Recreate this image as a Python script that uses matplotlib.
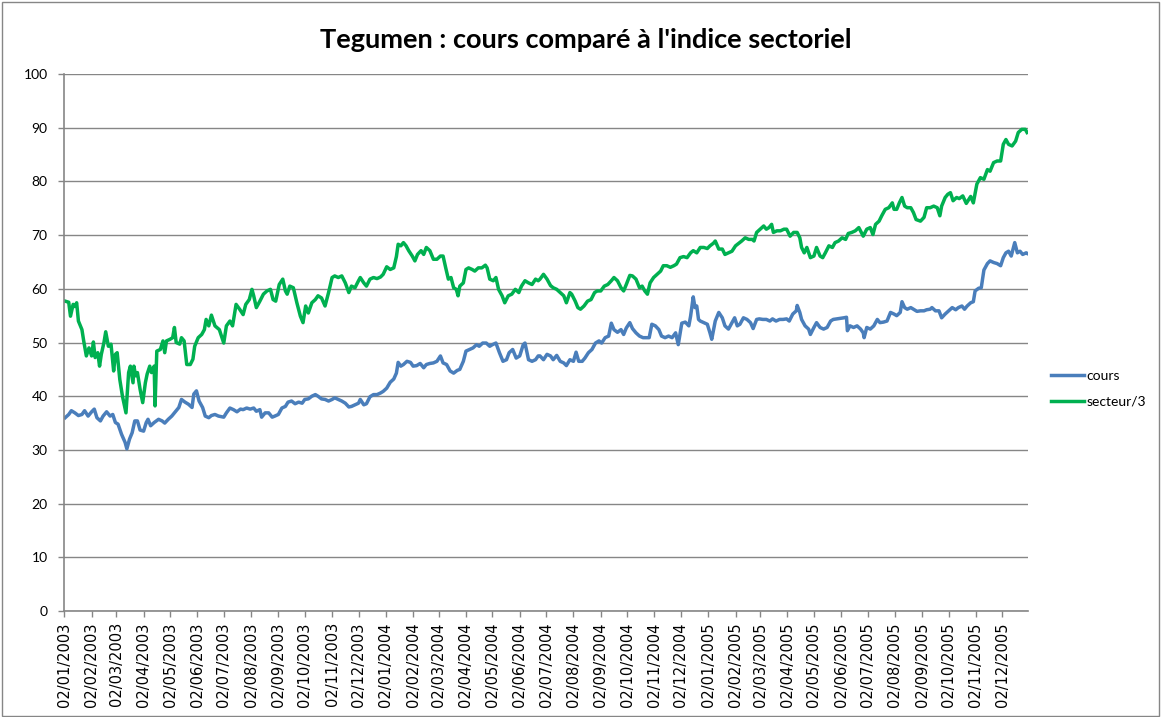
import datetime as dt
import matplotlib
matplotlib.use("Agg")
import matplotlib.pyplot as plt
from matplotlib.patches import Rectangle

# ---------------- data ----------------
debut = dt.date(2003, 1, 2)          # first date of the series
fin_jours = 1094                      # axis end, days after debut

titre = "Tegumen : cours comparé à l'indice sectoriel"
noms_series = ["cours", "secteur/3"]

# days after debut for the "cours" series
cours_jours = [1, 5, 8, 12, 16, 20, 23, 27, 31, 34, 37, 41, 44, 48, 52, 55, 58, 61, 65, 69, 71, 74, 77, 80, 83, 86, 90, 93, 95, 98,
               102, 107, 111, 114, 118, 122, 126, 130, 133, 137, 141, 145, 147, 150, 153, 157, 160, 164, 167, 171, 175,
               181, 184, 188, 192, 196, 200, 203, 207, 211, 215, 218, 222, 224, 228, 232, 236, 239, 243, 247, 251, 254, 258,
               262, 266, 270, 273, 277, 281, 285, 288, 292, 296, 300, 304, 307, 311, 315, 319, 323, 326, 330, 334, 336, 340,
               343, 347, 351, 355,
               359, 362, 366, 370, 374, 377, 379, 382, 385, 389, 393, 396, 400, 404, 408, 411, 415, 419, 423, 427, 430, 434,
               438, 442, 446, 449, 453, 456, 460, 464, 468, 471, 475, 479, 483, 486, 490, 494, 498, 502, 505, 509, 513, 517,
               521, 523, 527, 531, 535, 538,
               540, 544, 548, 552, 555, 559, 563, 567, 570, 574, 578, 581, 584, 588, 591, 595, 599, 603, 607, 610, 614, 618,
               621, 624, 628, 632, 635, 638, 642, 645, 649, 653, 657, 661, 664, 667, 671, 675, 678, 682, 686, 690, 694, 697,
               701, 705, 709, 711, 714, 716, 718, 720,
               722, 726, 730, 733, 735, 739, 743, 747, 750, 754, 758, 761, 764, 767, 771, 775, 779, 782, 786, 789, 793, 797,
               801, 804, 808, 812, 816, 820, 823, 827, 831, 832, 835, 837, 841, 845, 847, 851, 854, 858, 862, 866, 870, 873,
               877, 881, 885, 888, 889, 892, 896, 900,
               904, 907, 908, 911, 915, 919, 923, 926, 930, 934, 938, 942, 945, 949, 951, 954, 957, 961, 964, 968, 972, 976,
               979, 983, 985, 989, 993, 996, 1000, 1004, 1008, 1012, 1015, 1019, 1022, 1025, 1029, 1032, 1034, 1038, 1041,
               1044, 1048, 1051, 1055, 1059, 1063, 1066, 1069, 1072, 1075, 1079, 1082, 1085, 1088, 1092, 1093]
cours = [36.0, 36.6, 37.3, 36.9, 36.4, 36.6, 37.3, 36.3, 37.1, 37.6, 36.0, 35.4, 36.3, 37.1, 36.3, 36.6, 35.1, 34.8, 32.9, 31.4,
         30.2, 32.0, 33.2, 35.4, 35.4, 33.7, 33.5, 35.1, 35.7, 34.5,
         35.1, 35.7, 35.4, 35.0, 35.7, 36.3, 37.1, 37.9, 39.4, 38.9, 38.5, 37.9, 40.4, 41.0, 39.1, 37.9, 36.3, 36.0, 36.4,
         36.6, 36.3,
         36.1, 36.9, 37.8, 37.5, 37.1, 37.6, 37.5, 37.8, 37.6, 37.8, 37.2, 37.5, 36.1, 36.9, 36.9, 36.1, 36.3, 36.6, 37.8,
         38.1, 38.9, 39.1, 38.6, 38.9, 38.7, 39.4, 39.5, 40.0, 40.3, 40.0, 39.5, 39.4, 39.1, 39.4, 39.7, 39.4, 39.1, 38.7,
         38.0, 38.1, 38.4, 38.7, 39.4, 38.4, 38.6, 39.9, 40.3, 40.3,
         40.6, 40.9, 41.5, 42.6, 43.2, 44.3, 46.3, 45.6, 45.9, 46.5, 46.3, 45.6, 45.7, 46.1, 45.3, 45.9, 46.1, 46.2, 46.5,
         47.5, 46.2, 45.9, 44.7, 44.3, 44.8, 45.0, 46.5, 48.4, 48.7, 49.0, 49.6, 49.3, 49.9, 49.9, 49.3, 49.6, 49.9, 48.1,
         46.5, 46.8, 48.1, 48.7, 47.1, 47.5, 49.6, 49.9, 46.8, 46.5, 46.8, 47.5,
         47.5, 46.8, 47.8, 47.5, 46.8, 47.6, 46.5, 46.2, 45.7, 46.8, 46.5, 48.2, 46.5, 46.5, 47.1, 48.1, 48.7, 49.9, 50.3,
         49.9, 50.9, 51.2, 53.6, 52.4, 51.9, 52.4, 51.5, 52.7, 53.7, 52.6, 51.8, 51.2, 50.9, 50.9, 50.9, 53.4, 53.1, 52.4,
         51.2, 50.9, 51.2, 50.9, 51.8, 49.6, 53.6, 53.8, 53.1, 54.9, 58.5, 56.5, 56.8, 54.3,
         54.0, 53.7, 53.4, 51.8, 50.6, 54.0, 55.6, 54.6, 53.1, 52.5, 53.7, 54.6, 53.1, 53.4, 54.6, 54.3, 53.7, 52.6, 54.3,
         54.4, 54.3, 54.3, 54.0, 54.4, 54.0, 54.3, 54.3, 54.4, 54.0, 55.3, 55.9, 56.9, 55.6, 54.3, 53.1, 52.5, 51.5, 52.8,
         53.7, 52.8, 52.5, 52.8, 54.0, 54.3, 54.4, 54.5, 54.6, 54.7, 52.2, 53.1, 52.8, 53.1,
         52.5, 51.8, 50.9, 52.8, 52.5, 53.1, 54.3, 53.7, 53.8, 54.0, 55.6, 55.3, 55.0, 55.6, 57.6, 56.5, 56.2, 56.5, 56.2,
         55.8, 55.9, 55.9, 56.1, 56.2, 56.5, 55.9, 55.9, 54.6, 55.3, 55.9, 56.5, 56.1, 56.5, 56.8, 56.2, 56.8, 57.4, 57.6,
         59.6, 60.1, 60.2, 63.5, 64.7, 65.2, 64.9, 64.7, 64.3, 65.8, 66.7, 67.0, 66.1, 68.6, 66.7, 67.0, 66.4, 66.7, 66.6]

# days after debut for the "secteur/3" series
secteur_jours = [1, 5, 7, 10, 12, 14, 16, 20, 22, 25, 28, 31, 33, 35, 38, 40, 42, 45, 47, 50, 53, 56, 58, 60, 63, 66, 70, 73,
                 75, 78, 79, 81, 83, 86, 89, 92, 94, 97, 99, 102, 103, 105, 109, 112, 114, 116, 120, 123, 125, 127, 131,
                 133, 136, 139, 143, 146, 148, 152, 156, 159, 161, 164, 167, 171, 176,
                 181, 184, 188, 191, 195, 199, 203, 206, 210, 213, 215, 218, 222, 226, 230, 234, 237, 240, 244, 248, 251,
                 253, 256, 260, 264, 268, 271, 274, 277, 281, 285, 288, 292, 296, 300, 304, 307, 311, 315, 319, 323, 326,
                 330, 334, 336, 340, 343, 347, 351, 355,
                 359, 362, 366, 370, 374, 377, 379, 382, 385, 388, 391, 395, 398, 401, 405, 408, 411, 415, 419, 423, 427,
                 430, 433, 436, 439, 442, 445, 447, 449, 453, 456, 459, 463, 466, 470, 474, 478, 480, 483, 487, 490, 493,
                 497, 500, 504, 508, 512, 516, 519, 523, 527, 531, 535, 538,
                 540, 544, 548, 552, 555, 559, 563, 567, 570, 574, 576, 580, 583, 586, 590, 594, 598, 602, 605, 609, 613,
                 617, 621, 624, 628, 632, 635, 638, 642, 645, 649, 653, 656, 659, 662, 665, 669, 673, 677, 680, 684, 688,
                 692, 695, 699, 703, 707, 711, 714, 718,
                 722, 726, 730, 733, 737, 739, 743, 747, 750, 754, 758, 762, 766, 769, 773, 777, 781, 783, 786, 790, 794,
                 797, 800, 803, 805, 809, 813, 817, 820, 824, 828, 832, 835, 837, 840, 843, 847, 851, 854, 858, 861, 864,
                 868, 872, 875, 879, 883, 887, 890, 894, 898, 902,
                 907, 911, 915, 918, 921, 925, 928, 932, 936, 940, 942, 945, 948, 951, 954, 957, 961, 964, 967, 972, 976,
                 979, 983, 987, 991, 994, 996, 1000, 1003, 1006, 1009, 1013, 1016, 1020, 1024, 1027, 1029, 1032, 1036,
                 1040, 1044, 1048, 1051, 1055, 1059, 1063, 1066, 1069, 1072, 1076, 1080, 1083, 1087, 1091, 1093]
secteur = [57.7, 57.5, 54.9, 57.1, 56.7, 57.4, 54.0, 52.4, 50.3, 47.5, 49.0, 47.5, 50.1, 47.2, 48.1, 45.6, 47.8, 50.0, 52.0,
           49.3, 49.7, 44.7, 47.8, 48.1, 43.1, 40.0, 36.9, 44.4, 45.6, 42.5, 45.6, 43.8, 44.4, 41.3, 38.8, 42.5, 44.1, 45.6,
           44.4, 45.6, 38.2, 48.4, 48.7, 50.3, 48.1, 50.3, 50.6, 50.9, 52.8, 50.0, 49.7, 50.9, 50.3, 45.9, 45.9, 46.9, 49.3,
           50.9, 51.5, 52.4, 54.3, 53.1, 55.1, 53.1, 52.4,
           49.9, 53.1, 54.0, 53.1, 57.1, 56.2, 55.2, 57.1, 58.0, 59.9, 58.7, 56.5, 57.7, 59.0, 59.6, 59.9, 58.0, 57.7, 60.8,
           61.8, 59.6, 59.0, 60.5, 60.2, 57.4, 54.9, 53.7, 56.8, 55.5, 57.4, 58.0, 58.7, 58.3, 56.8, 59.3, 62.1, 62.4, 62.1,
           62.4, 61.1, 59.3, 60.5, 60.2, 61.5, 62.1, 61.1, 60.5, 61.8, 62.1, 61.9,
           62.2, 62.7, 64.1, 63.6, 63.9, 66.0, 68.3, 68.0, 68.6, 68.0, 67.1, 66.1, 65.2, 66.4, 67.1, 66.4, 67.7, 67.1, 65.5,
           65.5, 66.1, 66.1, 63.9, 61.8, 62.1, 60.2, 59.9, 58.7, 60.5, 61.1, 63.6, 63.9, 63.6, 63.3, 63.9, 63.9, 64.4, 63.9,
           61.8, 61.5, 62.1, 59.9, 58.7, 57.4, 58.7, 59.0, 59.9, 59.3, 60.5, 61.5, 61.1, 60.8, 61.8, 61.5,
           61.8, 62.7, 61.8, 60.6, 60.2, 59.9, 59.3, 58.7, 57.4, 59.3, 59.0, 57.7, 56.5, 56.2, 56.8, 57.7, 58.0, 59.3, 59.6,
           59.6, 60.5, 60.8, 61.5, 62.1, 61.5, 60.2, 59.6, 60.8, 62.5, 62.4, 61.8, 60.2, 60.5, 59.6, 59.0, 61.1, 62.1, 62.7,
           63.3, 64.3, 64.3, 64.0, 64.3, 64.6, 65.8, 66.0, 65.8, 66.7, 67.1, 66.7,
           67.7, 67.7, 67.5, 68.0, 68.5, 68.9, 67.4, 67.4, 66.4, 66.7, 67.0, 68.0, 68.5, 68.9, 69.5, 69.2, 69.2, 68.9, 70.5,
           71.1, 71.7, 71.1, 71.4, 72.0, 70.5, 70.8, 70.8, 71.1, 71.1, 69.8, 70.5, 70.5, 69.5, 67.7, 66.7, 67.7, 65.8, 66.1,
           67.7, 66.1, 65.8, 66.7, 68.0, 67.7, 68.6, 68.9, 69.5, 69.2, 70.3, 70.5, 70.8, 71.4,
           69.8, 71.1, 71.4, 70.1, 72.0, 72.6, 73.6, 74.8, 75.1, 76.0, 74.8, 74.8, 76.0, 77.0, 75.4, 75.1, 75.1, 74.2, 72.9,
           72.6, 73.3, 75.1, 75.1, 75.4, 75.1, 73.6, 75.4, 77.0, 77.6, 77.9, 76.4, 77.0, 76.8, 77.3, 75.9, 76.7, 77.2, 76.0,
           79.5, 80.7, 80.4, 82.2, 81.9, 83.5, 83.8, 83.8, 86.9, 87.8, 86.9, 86.6, 87.5, 89.1, 89.7, 89.7, 89.1]

y_ticks = list(range(0, 101, 10))
x_ticks = [dt.date(a, m, 2) for a in (2003, 2004, 2005) for m in range(1, 13)]

# ---------------- figure ----------------
def to_dates(jours):
    return [debut + dt.timedelta(days=d) for d in jours]

BLEU = "#4A7EBB"
VERT = "#00B050"
GRIS = "#868686"

fig = plt.figure(figsize=(11.61, 7.17), dpi=100)
ax = fig.add_axes([0.0554, 0.1478, 0.8300, 0.7490])

l1, = ax.plot(to_dates(cours_jours), cours, color=BLEU, lw=2.5, solid_joinstyle="round", label=noms_series[0])
l2, = ax.plot(to_dates(secteur_jours), secteur, color=VERT, lw=2.5, solid_joinstyle="round", label=noms_series[1])

ax.set_ylim(0, 100)
ax.set_yticks(y_ticks)
ax.set_xlim(debut, debut + dt.timedelta(days=fin_jours))
ax.set_xticks(x_ticks)
ax.set_xticklabels([d.strftime("%d/%m/%Y") for d in x_ticks], rotation=90,
                   fontfamily="DejaVu Sans", fontsize=10.5)
for lab in ax.get_yticklabels():
    lab.set_fontfamily("Lato")
    lab.set_fontsize(10)

ax.yaxis.grid(True, color=GRIS, lw=1)
ax.set_axisbelow(True)
for s in ("top", "right"):
    ax.spines[s].set_visible(False)
for s in ("left", "bottom"):
    ax.spines[s].set_color(GRIS)
    ax.spines[s].set_linewidth(1.2)
ax.tick_params(axis="both", direction="out", length=4, color=GRIS, width=1)
ax.tick_params(axis="y", pad=8)
ax.tick_params(axis="x", pad=4)

fig.text(0.505, 0.944, titre, ha="center", va="center", fontsize=19.5,
         fontweight="bold", fontfamily="Lato")

fig.legend(handles=[l1, l2], loc="center left", bbox_to_anchor=(0.905, 0.4575),
           frameon=False, prop={"family": "Lato", "size": 10},
           handlelength=2.4, handletextpad=0.2, labelspacing=1.0, borderpad=0, borderaxespad=0)

fig.patches.append(Rectangle((0.0015, 0.002), 0.997, 0.995, transform=fig.transFigure,
                             fill=False, edgecolor=GRIS, lw=1))

fig.savefig("out.png", dpi=100)
